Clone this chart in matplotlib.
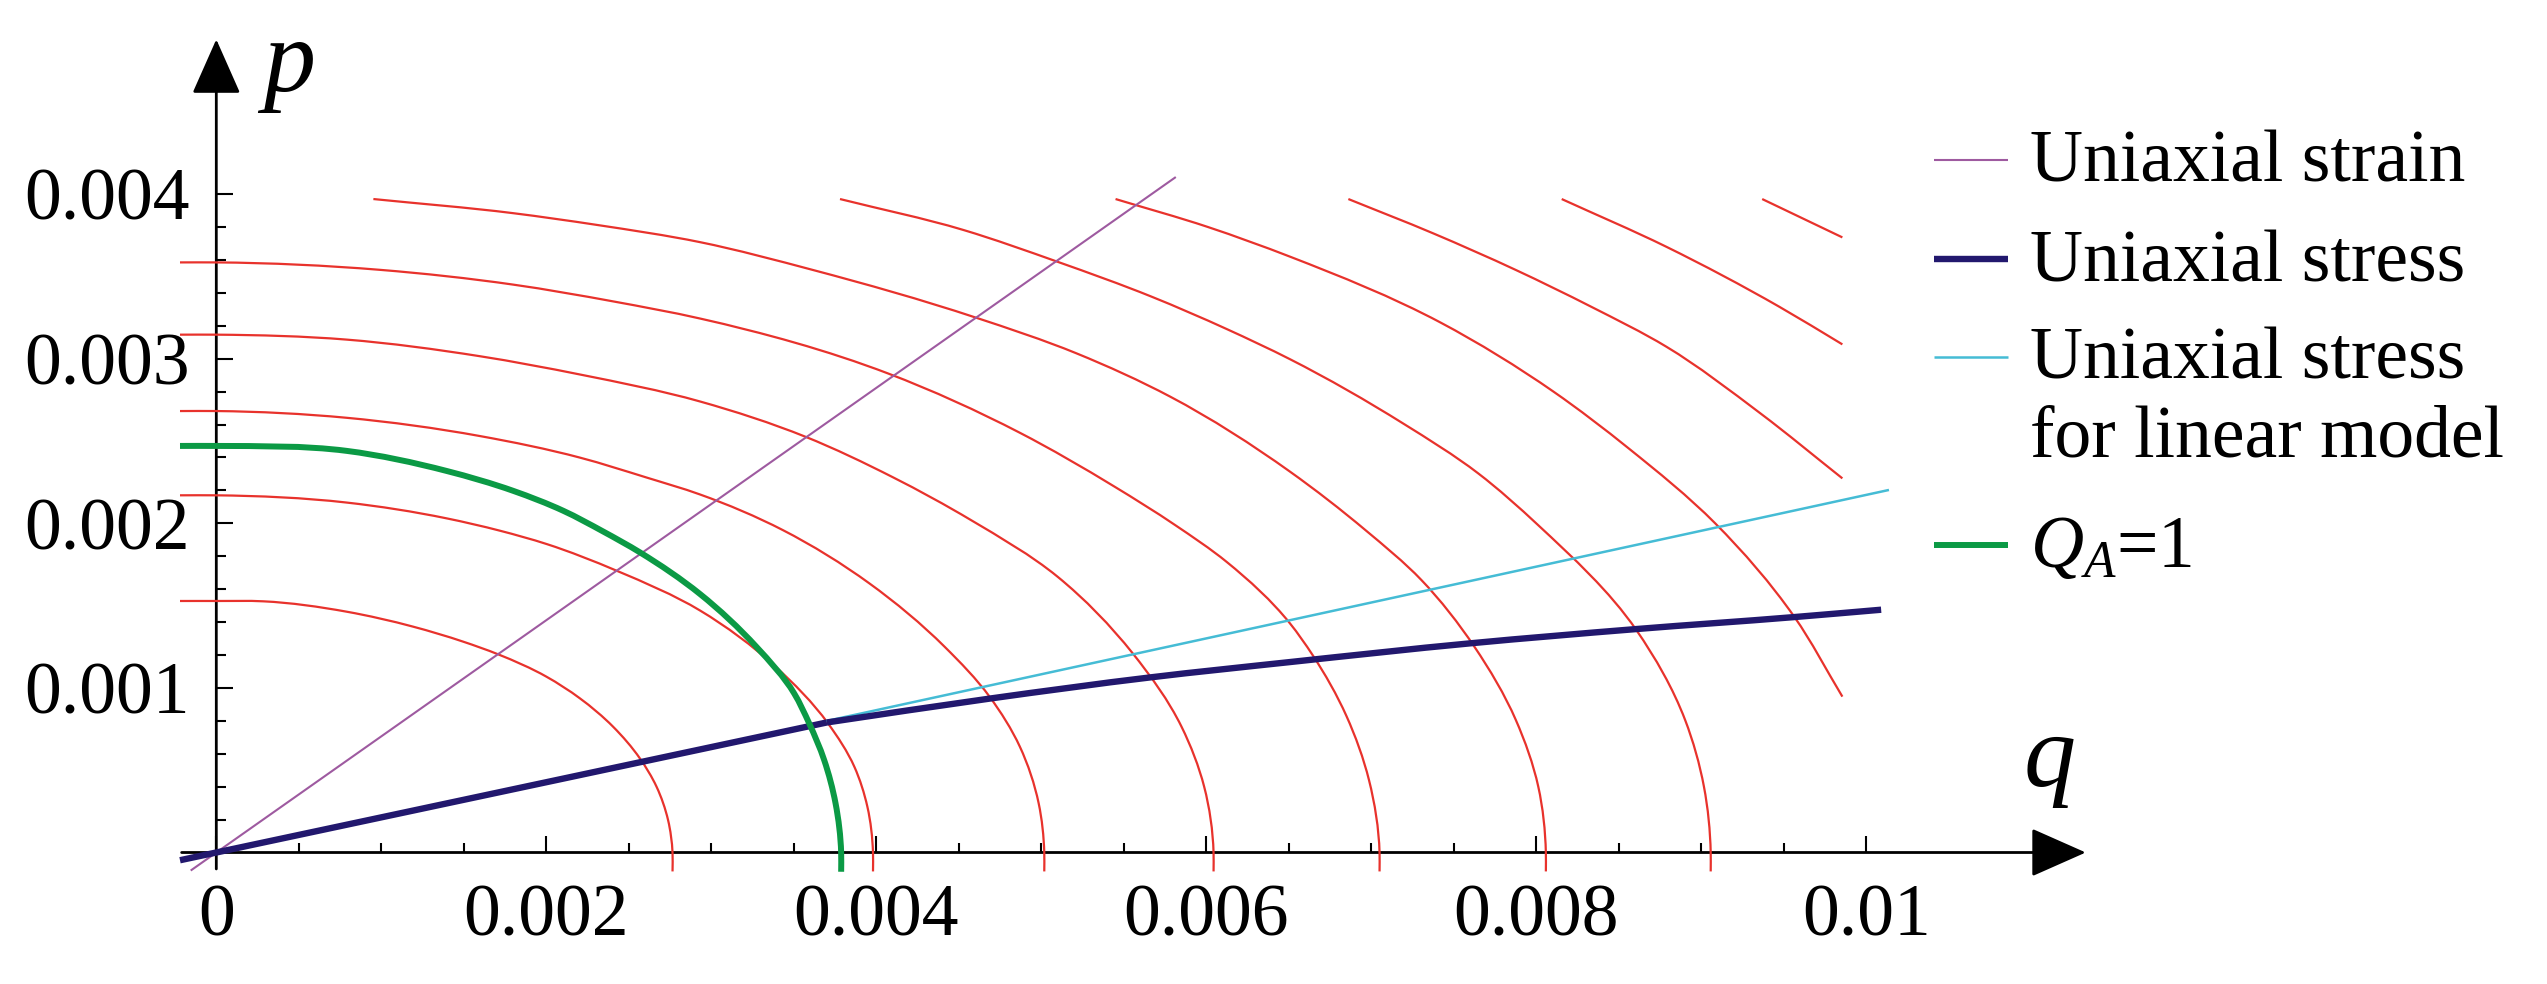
import matplotlib
matplotlib.use('Agg')
import matplotlib.pyplot as plt
from matplotlib.lines import Line2D
from matplotlib.path import Path
from matplotlib.patches import PathPatch
from matplotlib.ticker import FixedLocator, FixedFormatter
import numpy as np

plt.rcParams['font.family'] = ['Liberation Serif', 'DejaVu Serif']
plt.rcParams['mathtext.fontset'] = 'custom'
plt.rcParams['mathtext.rm'] = 'Liberation Serif'
plt.rcParams['mathtext.it'] = 'Liberation Serif:italic'

# all values below are in units of 1e-3 (q, p)
SCALE = 1e-3

# red level curves
level_q = [
    [-0.22, 0, 0.285, 0.79, 1.193, 1.496, 1.708, 2.001, 2.203, 2.405, 2.567, 2.668, 2.738, 2.765, 2.765],
    [-0.22, 0, 0.79, 1.396, 1.719, 2.002, 2.426, 2.932, 3.388, 3.707, 3.867, 3.946, 3.98, 3.98],
    [-0.22, 0, 0.79, 1.598, 2.204, 2.608, 2.932, 3.433, 3.958, 4.414, 4.687, 4.87, 4.984, 5.018, 5.018],
    [-0.22, 0, 0.79, 1.598, 2.204, 2.932, 3.57, 4.1, 4.573, 5.098, 5.554, 5.85, 5.987, 6.044, 6.044],
    [-0.22, 0, 0.99, 1.8, 2.406, 2.932, 4.072, 4.87, 5.44, 5.81, 6.124, 6.507, 6.644, 6.849, 6.986, 7.05, 7.05],
    [0.952, 1.8, 2.305, 2.932, 3.616, 4.596, 5.212, 5.782, 6.507, 6.964, 7.303, 7.625, 7.876, 8.012, 8.058, 8.058],
    [3.78, 4.528, 5.098, 5.668, 6.124, 6.507, 7.192, 7.647, 8.01, 8.606, 8.902, 9.016, 9.057, 9.057],
    [5.45, 6.01, 6.507, 7.419, 8.104, 8.56, 9.084, 9.563, 9.855],
    [6.861, 7.374, 7.876, 8.332, 8.788, 9.358, 9.855],
    [8.154, 8.788, 9.472, 9.855],
    [9.369, 9.855],
]
level_p = [
    [1.528, 1.528, 1.526, 1.463, 1.372, 1.281, 1.204, 1.068, 0.937, 0.764, 0.572, 0.40, 0.197, 0, -0.115],
    [2.17, 2.17, 2.126, 2.03, 1.955, 1.874, 1.712, 1.47, 1.13, 0.785, 0.521, 0.278, 0, -0.115],
    [2.682, 2.682, 2.641, 2.53, 2.399, 2.278, 2.175, 1.959, 1.635, 1.25, 0.946, 0.643, 0.299, 0, -0.115],
    [3.146, 3.146, 3.116, 3.015, 2.904, 2.74, 2.526, 2.28, 2.02, 1.676, 1.21, 0.764, 0.4, 0, -0.115],
    [3.585, 3.585, 3.54, 3.45, 3.348, 3.244, 2.91, 2.55, 2.225, 1.99, 1.765, 1.392, 1.2, 0.83, 0.44, 0, -0.115],
    [3.97, 3.884, 3.813, 3.708, 3.539, 3.252, 3.033, 2.769, 2.314, 1.959, 1.656, 1.25, 0.805, 0.4, 0, -0.115],
    [3.97, 3.782, 3.589, 3.377, 3.18, 2.997, 2.607, 2.304, 1.99, 1.352, 0.805, 0.4, 0, -0.115],
    [3.97, 3.80, 3.62, 3.22, 2.80, 2.455, 2.0, 1.433, 0.947],
    [3.97, 3.762, 3.539, 3.316, 3.073, 2.668, 2.273],
    [3.97, 3.68, 3.316, 3.087],
    [3.97, 3.737],
]

# Q_A = 1 curve
qa_q = [-0.22, 0, 0.79, 1.396, 1.8, 2.103, 2.345, 2.568, 2.932, 3.273, 3.502, 3.593, 3.684, 3.753, 3.787, 3.787]
qa_p = [2.47, 2.47, 2.44, 2.318, 2.197, 2.076, 1.95, 1.823, 1.57, 1.25, 0.967, 0.785, 0.562, 0.299, 0, -0.117]

# loading paths
strain_q = [-0.15, 5.81]
strain_p = [-0.106, 4.10]
stress_q = [-0.22, 0, 3.7, 4.687, 5.662, 6.507, 7.602, 8.6, 9.56, 10.09]
stress_p = [-0.047, 0, 0.79, 0.935, 1.064, 1.157, 1.271, 1.357, 1.43, 1.475]
YIELD = 2   # index in stress_q where the linear part ends
linear_q = [3.68, 10.13]
linear_p = [0.795, 2.201]

xticks = [0, 2, 4, 6, 8, 10]
xtick_labels = ['0', '0.002', '0.004', '0.006', '0.008', '0.01']
yticks = [1, 2, 3, 4]
ytick_labels = ['0.001', '0.002', '0.003', '0.004']

legend_labels = ['Uniaxial strain', 'Uniaxial stress',
                 'Uniaxial stress\nfor linear model', r'$Q_{A}$=1']

RED = '#E8322C'
PURPLE = '#9E5AA0'
NAVY = '#22186E'
CYAN = '#45BCD5'
GREEN = '#0B9A45'


def smooth_path(x, y):
    # smooth curve through the read points (cubic Bezier, Bessel tangents)
    P = np.column_stack([x, y])
    n = len(P)
    if n < 3:
        return Path(P)
    d = np.hypot(*np.diff(P, axis=0).T)
    u = np.diff(P, axis=0) / d[:, None]
    T = np.zeros_like(P)
    T[0] = u[0]
    T[-1] = u[-1]
    for i in range(1, n - 1):
        T[i] = (d[i] * u[i - 1] + d[i - 1] * u[i]) / (d[i - 1] + d[i])
    verts = [P[0]]
    codes = [Path.MOVETO]
    for i in range(n - 1):
        verts += [P[i] + T[i] * d[i] / 3, P[i + 1] - T[i + 1] * d[i] / 3, P[i + 1]]
        codes += [Path.CURVE4] * 3
    return Path(verts, codes)


def curve(ax, x, y, color, lw, z):
    ax.add_patch(PathPatch(smooth_path(np.array(x) * SCALE, np.array(y) * SCALE),
                           fill=False, edgecolor=color, lw=lw, capstyle='butt', zorder=z))


# layout (pixels)
W, H = 2547, 984
ox, oy = 216.3, 852.5
ux, uy = 165.0, 164.6
xlim = (-0.45, 11.6)
ylim = (-0.4, 5.1)

fig = plt.figure(figsize=(W / 100, H / 100), dpi=100)
lpx = ox + ux * xlim[0]
rpx = ox + ux * xlim[1]
bpx = oy - uy * ylim[0]
tpx = oy - uy * ylim[1]
ax = fig.add_axes([lpx / W, 1 - bpx / H, (rpx - lpx) / W, (bpx - tpx) / H])
ax.set_xlim(xlim[0] * SCALE, xlim[1] * SCALE)
ax.set_ylim(ylim[0] * SCALE, ylim[1] * SCALE)
ax.patch.set_visible(False)

s = lambda v: np.array(v) * SCALE

for qq, pp in zip(level_q, level_p):
    curve(ax, qq, pp, RED, 1.6, 3)
ax.plot(s(strain_q), s(strain_p), color=PURPLE, lw=1.5, zorder=4)
ax.plot(s(linear_q), s(linear_p), color=CYAN, lw=1.8, zorder=4)
ax.plot(s(stress_q[:YIELD + 1]), s(stress_p[:YIELD + 1]), color=NAVY, lw=4.6, zorder=5,
        solid_capstyle='butt')
curve(ax, stress_q[YIELD:], stress_p[YIELD:], NAVY, 4.6, 5)
curve(ax, qa_q, qa_p, GREEN, 4.3, 6)

# axes through the origin with arrows
for sp in ax.spines.values():
    sp.set_visible(False)
ax.spines['bottom'].set_position(('data', 0))
ax.spines['left'].set_position(('data', 0))
arrow = dict(arrowstyle='-|>,head_length=0.7,head_width=0.31', mutation_scale=50,
             lw=2, color='black', shrinkA=0, shrinkB=0)
ax.annotate('', xy=(11.33 * SCALE, 0), xytext=(-0.21 * SCALE, 0), arrowprops=arrow, zorder=2)
ax.annotate('', xy=(0, 4.94 * SCALE), xytext=(0, -0.1 * SCALE), arrowprops=arrow, zorder=2)

ax.xaxis.set_major_locator(FixedLocator(s(xticks)))
ax.xaxis.set_major_formatter(FixedFormatter(xtick_labels))
ax.xaxis.set_minor_locator(FixedLocator(s(np.arange(0.5, 10, 0.5))))
ax.yaxis.set_major_locator(FixedLocator(s(yticks)))
ax.yaxis.set_major_formatter(FixedFormatter(ytick_labels))
ax.yaxis.set_minor_locator(FixedLocator(s(np.arange(0.2, 4.0, 0.2))))
ax.tick_params(which='both', direction='in', width=1.5, color='black',
               top=False, right=False, labelsize=53)
ax.tick_params(which='major', length=12)
ax.tick_params(which='minor', length=7)
ax.tick_params(axis='x', which='major', pad=23)
ax.tick_params(axis='y', which='major', pad=19)

fig.text(263 / W, 1 - 91 / H, 'p', fontsize=75, style='italic', va='baseline', ha='left')
fig.text(2024 / W, 1 - 786 / H, 'q', fontsize=75, style='italic', va='baseline', ha='left')

# legend
leg_colors = [PURPLE, NAVY, CYAN, GREEN]
leg_widths = [1.5, 4.6, 1.8, 4.3]
leg_line_y = [159.7, 259, 356.6, 545]
leg_text_y = [181.6, 281, 457, 567]   # baseline of the last line of each label
for lab, c, w, ly, ty in zip(legend_labels, leg_colors, leg_widths, leg_line_y, leg_text_y):
    fig.add_artist(Line2D([1934 / W, 2007.5 / W], [1 - ly / H, 1 - ly / H], color=c, lw=w,
                          solid_capstyle='butt'))
    fig.text(2030 / W, 1 - ty / H, lab, fontsize=53, va='baseline', ha='left',
             linespacing=1.22)

fig.savefig('out.png', dpi=100)
